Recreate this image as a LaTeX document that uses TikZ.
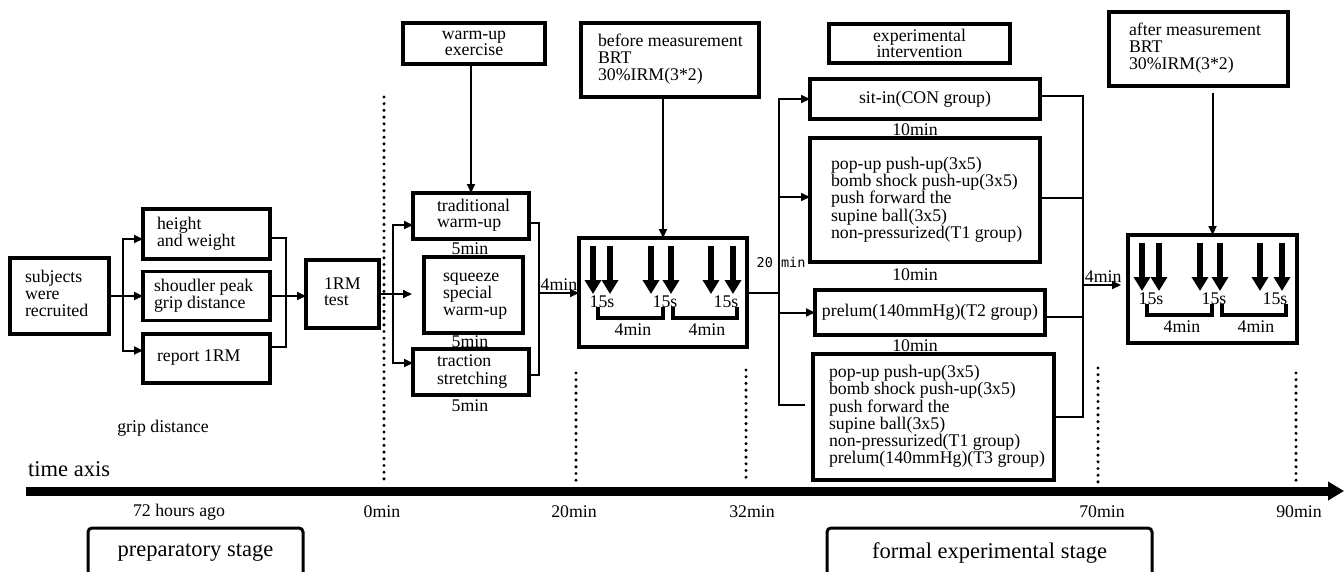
\documentclass[tikz,border=0pt]{standalone}
\usepackage{fontspec}
\setmainfont{Liberation Serif}
\newfontfamily\monofnt{DejaVu Sans Mono}
\usetikzlibrary{arrows.meta,calc}
\newcommand\bxtext[3]{\makebox[#1][l]{\hspace*{#2}\begin{tabular}{@{}l@{}}#3\end{tabular}}}
\begin{document}
\begin{tikzpicture}[x=1pt,y=-1pt,
 font=\fontsize{17.8}{16.4}\selectfont,
 bx/.style={draw,line width=3.4pt,inner sep=0pt,outer sep=0pt},
 cbox/.style={bx,align=center},
 conn/.style={line width=2pt},
 arr/.style={conn,-{Triangle[length=9pt,width=8pt]}},
 big/.style={line width=6pt,-{Triangle[length=14pt,width=16pt]}},
 brk/.style={line width=4pt},
 dots/.style={line width=3.4pt,line cap=round,dash pattern=on 0pt off 6.7pt},
 lbl/.style={inner sep=0pt},
 stage/.style={draw,line width=3pt,rounded corners=4pt,inner sep=0pt,font=\fontsize{22.5}{24}\selectfont},
]
\useasboundingbox (0,0) rectangle (1344,571);

% ---------- preparatory part ----------
\node[bx,minimum width=99pt,minimum height=76pt] (subj) at (59.5,296) {\bxtext{99pt}{15pt}{subjects\\were\\recruited}};
\node[bx,minimum width=127pt,minimum height=50pt] (hw) at (206.5,234) {\bxtext{127pt}{14pt}{height\\and weight}};
\node[bx,minimum width=127pt,minimum height=49pt] (sh) at (206.5,296) {\bxtext{127pt}{11pt}{shoudler peak\\grip distance}};
\node[bx,minimum width=127pt,minimum height=49pt] (rep) at (206.5,358.5) {\bxtext{127pt}{14pt}{report 1RM}};
\node[bx,minimum width=73pt,minimum height=68pt] (rm) at (342.5,294) {\bxtext{73pt}{18pt}{1RM\\test}};
\node[lbl] (grip) at (163,428) {grip distance};

% ---------- warm-up ----------
\node[cbox,minimum width=142pt,minimum height=41pt] (wuex) at (474,43.5) {warm-up\\exercise};
\node[bx,minimum width=116pt,minimum height=46pt] (tr) at (471,216) {\bxtext{116pt}{24pt}{traditional\\warm-up}};
\node[bx,minimum width=99pt,minimum height=76pt] (sq) at (473.5,295) {\bxtext{99pt}{19pt}{squeeze\\special\\warm-up}};
\node[bx,minimum width=116pt,minimum height=46pt] (ts) at (471,372) {\bxtext{116pt}{24pt}{traction\\stretching}};
\node[lbl] (f1) at (470,249) {5min};
\node[lbl] (f2) at (470,342) {5min};
\node[lbl] (f3) at (470,406) {5min};

% ---------- measurement boxes ----------
\node[bx,minimum width=178pt,minimum height=74pt] (before) at (670,60) {\bxtext{178pt}{17pt}{before measurement\\BRT\\30\%IRM(3*2)}};
\node[bx,minimum width=168pt,minimum height=109pt] (m1) at (663,292.5) {};
\node[bx,minimum width=179pt,minimum height=74pt] (after) at (1198.5,49) {\bxtext{179pt}{20pt}{after measurement\\BRT\\30\%IRM(3*2)}};
\node[bx,minimum width=169pt,minimum height=108pt] (m2) at (1212.5,289) {};

\foreach \m in {m1,m2}{
  \foreach \dx in {14,31,72,92,132,154}
    \draw[big] ($(\m.north west)+(\dx,8)$) -- ($(\m.north west)+(\dx,56)$);
  \draw[brk] ($(\m.north west)+(19,69)$) -- ++(0,11) -- ++(65,0) -- ++(0,-11);
  \draw[brk] ($(\m.north west)+(94,69)$) -- ++(0,11) -- ++(64,0) -- ++(0,-11);
  \node[lbl] (\m-a) at ($(\m.north west)+(23,64)$) {15s};
  \node[lbl] (\m-b) at ($(\m.north west)+(86,64)$) {15s};
  \node[lbl] (\m-c) at ($(\m.north west)+(147,64)$) {15s};
  \node[lbl] (\m-d) at ($(\m.north west)+(54,92)$) {4min};
  \node[lbl] (\m-e) at ($(\m.north west)+(128,92)$) {4min};
}

% ---------- intervention ----------
\node[cbox,minimum width=181pt,minimum height=39pt] (expint) at (919.5,43.5) {experimental\\intervention};
\node[cbox,minimum width=230pt,minimum height=40pt] (si) at (925,99) {sit-in(CON group)};
\node[bx,minimum width=230pt,minimum height=124pt] (t1) at (925,200) {\bxtext{230pt}{21pt}{pop-up push-up(3x5)\\bomb shock push-up(3x5)\\push forward the\\supine ball(3x5)\\non-pressurized(T1 group)}};
\node[cbox,minimum width=230pt,minimum height=45pt] (t2) at (930,312.5) {prelum(140mmHg)(T2 group)};
\node[bx,minimum width=241pt,minimum height=126pt] (t3) at (933.5,417) {\bxtext{241pt}{16pt}{pop-up push-up(3x5)\\bomb shock push-up(3x5)\\push forward the\\supine ball(3x5)\\non-pressurized(T1 group)\\prelum(140mmHg)(T3 group)}};
\node[lbl] (g1) at (915,130) {10min};
\node[lbl] (g2) at (915,275) {10min};
\node[lbl] (g3) at (915,346) {10min};
\node[lbl,font=\monofnt\fontsize{13.5}{14}\selectfont] (twenty) at (781,262) {20 min};

% ---------- connectors ----------
\coordinate (j1) at (123,296);
\coordinate (j2) at (286,296);
\draw[arr] (subj.east) -- (sh.west);
\draw[arr] (j1) |- ([yshift=-5pt]hw.west);
\draw[arr] (j1) |- ([yshift=8pt]rep.west);
\draw[conn] ([yshift=-4pt]hw.east) -| (j2);
\draw[conn] ([yshift=12pt]rep.east) -| (j2);
\draw[arr] (sh.east) -- (sh.east -| rm.west);

\coordinate (j3) at (393,294);
\coordinate (j4) at (539,293);
\draw[arr,shorten >=12pt] (rm.east) -- (rm.east -| sq.west);
\draw[arr] (j3) |- ([yshift=-9pt]tr.west);
\draw[arr] (j3) |- ([yshift=9pt]ts.west);
\draw[conn] ([yshift=-7pt]tr.east) -| (j4);
\draw[conn] ([yshift=-3pt]ts.east) -| (j4);
\draw[arr] (j4) -- (j4 -| m1.west) node[midway,above,inner sep=1.5pt] (l4a) {4min};
\draw[arr] (wuex.south -| tr.north) -- (tr.north);
\draw[arr] (m1.north |- before.south) -- (m1.north);

\coordinate (j5) at (779,292.5);
\coordinate (j6) at (1083,285);
\draw[conn] (m1.east) -- (j5);
\draw[arr] (j5) |- (si.west);
\draw[arr] (j5) |- ([yshift=3pt]t1.west);
\draw[arr] (j5) |- (t2.west);
\draw[conn] (j5) |- ([xshift=-8pt,yshift=12pt]t3.west);
\draw[conn] ([yshift=3pt]si.east) -| (j6);
\draw[conn] ([yshift=2pt]t1.east) -| (j6);
\draw[conn] ([yshift=-4.5pt]t2.east) -| (j6);
\draw[conn] (t3.east) -| (j6);
\draw[arr,shorten >=7pt] (j6) -- (j6 -| m2.west) node[pos=0.45,above,inner sep=1.5pt] (l4b) {4min};
\draw[arr,shorten <=7pt] (m2.north |- after.south) -- (m2.north);

% ---------- time axis ----------
\draw[dots] (384,97) -- (384,483);
\draw[dots] (576,373) -- (576,483);
\draw[dots] (746,370) -- (746,483);
\draw[dots] (1098,368) -- (1098,483);
\draw[dots] (1296,373) -- (1296,483);
\coordinate (axL) at (26,491);
\coordinate (axR) at (1344,491);
\draw[line width=9pt,-{Triangle[length=16pt,width=18pt]}] (axL) -- (axR);
\node[lbl,anchor=west,font=\fontsize{22.5}{24}\selectfont] (tax) at (28,469) {time axis};
\node[lbl] (h72) at (179,512) {72 hours ago};
\node[lbl] (z0) at (382,512) {0min};
\node[lbl] (z20) at (574,512) {20min};
\node[lbl] (z32) at (752,512) {32min};
\node[lbl] (z70) at (1102,512) {70min};
\node[lbl] (z90) at (1299,512) {90min};
\node[stage,minimum width=215pt,minimum height=50pt] (prep) at (195.5,553) {preparatory stage};
\node[stage,minimum width=325pt,minimum height=50pt] (formal) at (989.5,553) {formal experimental stage};
\end{tikzpicture}
\end{document}
